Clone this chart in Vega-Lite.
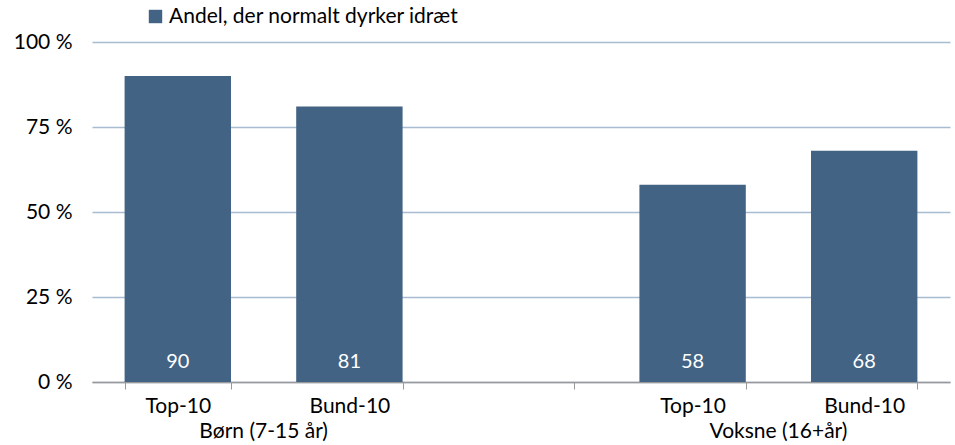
{
  "$schema": "https://vega.github.io/schema/vega-lite/v6.json",
  "width": 858,
  "height": 340,
  "autosize": {"type": "none"},
  "padding": {"left": 92, "top": 42, "right": 5, "bottom": 63},
  "background": "white",
  "config": {
    "font": "Lato",
    "view": {"stroke": null}
  },
  "datasets": {
    "bars": [
      {"slot": "Børn|Top-10", "serie": "Andel, der normalt dyrker idræt", "value": 90},
      {"slot": "Børn|Bund-10", "serie": "Andel, der normalt dyrker idræt", "value": 81},
      {"slot": "Voksne|Top-10", "serie": "Andel, der normalt dyrker idræt", "value": 58},
      {"slot": "Voksne|Bund-10", "serie": "Andel, der normalt dyrker idræt", "value": 68}
    ],
    "groups": [
      {"slot": "Børn|Top-10", "group": "Børn (7-15 år)"},
      {"slot": "Voksne|Top-10", "group": "Voksne (16+år)"}
    ]
  },
  "layer": [
    {
      "data": {"name": "bars"},
      "mark": {"type": "bar", "color": "#426384"},
      "encoding": {
        "x": {
          "field": "slot",
          "type": "nominal",
          "sort": null,
          "scale": {
            "domain": ["Børn|Top-10", "Børn|Bund-10", "gap|", "Voksne|Top-10", "Voksne|Bund-10"],
            "paddingInner": 0.38,
            "paddingOuter": 0.19
          },
          "axis": {
            "title": null,
            "labelAngle": 0,
            "labelExpr": "split(datum.value, '|')[1]",
            "labelFontSize": 21,
            "labelColor": "#000000",
            "labelPadding": 6,
            "tickBand": "extent",
            "tickSize": 7,
            "tickColor": "#999999",
            "domainColor": "#999999",
            "domainWidth": 1.5,
            "grid": false
          }
        },
        "y": {
          "field": "value",
          "type": "quantitative",
          "scale": {"domain": [0, 100]},
          "axis": {
            "title": null,
            "values": [0, 25, 50, 75, 100],
            "labelExpr": "datum.value + ' %'",
            "labelFontSize": 21,
            "labelColor": "#000000",
            "labelPadding": 20,
            "ticks": false,
            "domain": false,
            "gridColor": "#a7bbd1",
            "gridWidth": 1.5
          }
        },
        "fill": {
          "field": "serie",
          "type": "nominal",
          "scale": {"range": ["#426384"]},
          "legend": {
            "title": null,
            "orient": "none",
            "legendX": 53,
            "legendY": -36,
            "symbolType": "square",
            "symbolSize": 180,
            "symbolStrokeWidth": 0,
            "labelFontSize": 21,
            "labelColor": "#000000",
            "labelOffset": 3,
            "labelLimit": 500
          }
        }
      }
    },
    {
      "data": {"name": "bars"},
      "mark": {"type": "text", "color": "white", "fontSize": 20, "baseline": "middle", "dy": -20},
      "encoding": {
        "x": {"field": "slot", "type": "nominal", "sort": null},
        "y": {"datum": 0},
        "text": {"field": "value", "type": "quantitative"}
      }
    },
    {
      "data": {"name": "groups"},
      "mark": {"type": "text", "color": "#000000", "fontSize": 21, "baseline": "middle", "dy": 50},
      "encoding": {
        "x": {"field": "slot", "type": "nominal", "sort": null, "bandPosition": 1.307},
        "y": {"datum": 0},
        "text": {"field": "group", "type": "nominal"}
      }
    }
  ]
}
